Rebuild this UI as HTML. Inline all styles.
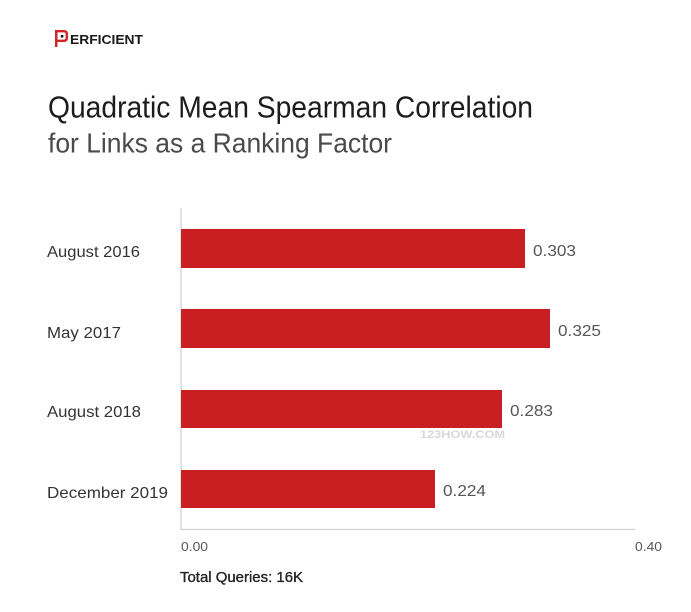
<!DOCTYPE html>
<html>
<head>
<meta charset="utf-8">
<style>
  html,body{margin:0;padding:0;background:#fff;}
  svg{display:block;}
  text{font-family:"Liberation Sans",sans-serif;}
</style>
</head>
<body>
<svg width="691" height="612" viewBox="0 0 691 612" xmlns="http://www.w3.org/2000/svg">
  <rect width="691" height="612" fill="#fff"/>

  <!-- Logo -->
  <g>
    <path fill-rule="evenodd" d="M55 30 H64 Q68 30 68 34 V38 Q68 42 64 42 H57.5 V47 H55 Z M57.5 32.4 V39.6 H64 Q65.6 39.6 65.6 38 V34 Q65.6 32.4 64 32.4 Z" fill="#d3242b"/>
    <rect x="60.8" y="35" width="2.5" height="2.5" fill="#111"/>
    <text x="70" y="44" font-size="12.5" font-weight="bold" fill="#1a1a1a" textLength="73" lengthAdjust="spacingAndGlyphs">ERFICIENT</text>
  </g>

  <!-- Titles -->
  <text x="48" y="117.5" font-size="31" fill="#1c1c1c" textLength="485" lengthAdjust="spacingAndGlyphs">Quadratic Mean Spearman Correlation</text>
  <text x="48" y="152.5" font-size="28" fill="#4a4a4a" textLength="344" lengthAdjust="spacingAndGlyphs">for Links as a Ranking Factor</text>

  <!-- Axes -->
  <line x1="181" y1="208" x2="181" y2="529.5" stroke="#cfcfcf" stroke-width="1.2"/>
  <line x1="181" y1="529.5" x2="635" y2="529.5" stroke="#cfcfcf" stroke-width="1.2"/>

  <!-- Bars -->
  <rect x="181" y="229" width="344" height="39" fill="#c91f22"/>
  <rect x="181" y="309" width="369" height="39" fill="#c91f22"/>
  <rect x="181" y="390" width="321" height="38" fill="#c91f22"/>
  <rect x="181" y="470" width="254" height="38" fill="#c91f22"/>

  <!-- Category labels -->
  <g font-size="16" fill="#333">
    <text x="47" y="257" textLength="93" lengthAdjust="spacingAndGlyphs">August 2016</text>
    <text x="47" y="338" textLength="74" lengthAdjust="spacingAndGlyphs">May 2017</text>
    <text x="47" y="417" textLength="94" lengthAdjust="spacingAndGlyphs">August 2018</text>
    <text x="47" y="498" textLength="121" lengthAdjust="spacingAndGlyphs">December 2019</text>
  </g>

  <!-- Value labels -->
  <g font-size="16" fill="#555">
    <text x="533" y="256" textLength="43" lengthAdjust="spacingAndGlyphs">0.303</text>
    <text x="558" y="336" textLength="43" lengthAdjust="spacingAndGlyphs">0.325</text>
    <text x="510" y="416" textLength="43" lengthAdjust="spacingAndGlyphs">0.283</text>
    <text x="443" y="496" textLength="43" lengthAdjust="spacingAndGlyphs">0.224</text>
  </g>

  <!-- Watermark -->
  <text x="420" y="438" font-size="11" font-weight="bold" fill="#d8d8d8" textLength="85" lengthAdjust="spacingAndGlyphs">123HOW.COM</text>

  <!-- Tick labels -->
  <text x="181" y="551" font-size="13" fill="#555" textLength="27" lengthAdjust="spacingAndGlyphs">0.00</text>
  <text x="635" y="551" font-size="13" fill="#555" textLength="27" lengthAdjust="spacingAndGlyphs">0.40</text>

  <!-- Footer -->
  <text x="180" y="582" font-size="15" fill="#222" stroke="#222" stroke-width="0.35" textLength="123" lengthAdjust="spacingAndGlyphs">Total Queries: 16K</text>
</svg>
</body>
</html>
